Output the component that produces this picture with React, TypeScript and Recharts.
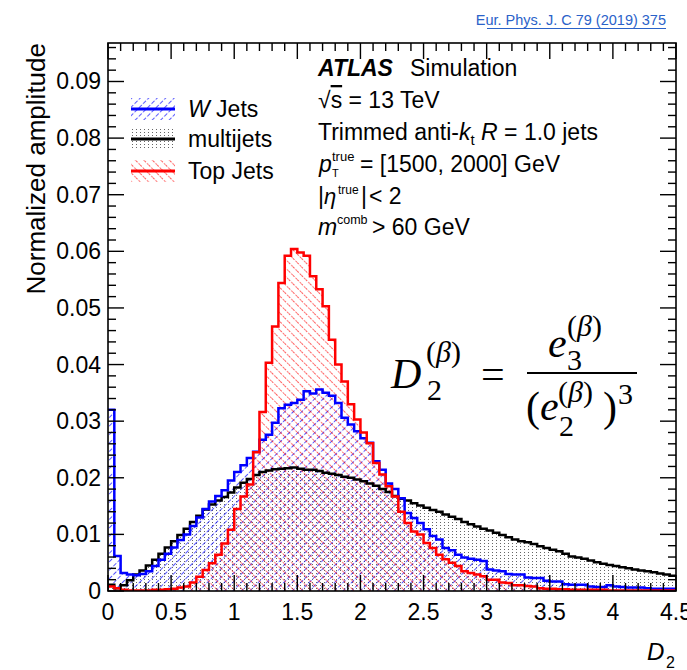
import { ComposedChart, Area, Line, XAxis, YAxis } from 'recharts';

// D2 distributions, 90 bins of width 0.05 from 0 to 4.5
const BIN_WIDTH = 0.05;

const wJets = [
  0.032, 0.0062, 0.0032, 0.0029, 0.0028, 0.003, 0.0035, 0.0044, 0.0055, 0.0066,
  0.0077, 0.009, 0.01, 0.0115, 0.013, 0.0145, 0.0158, 0.0168, 0.0178, 0.0195,
  0.021, 0.0222, 0.0235, 0.0246, 0.0267, 0.0276, 0.0297, 0.0323, 0.0329, 0.0332,
  0.0338, 0.0353, 0.0349, 0.0356, 0.035, 0.0345, 0.0332, 0.0306, 0.0294, 0.0282,
  0.027, 0.0262, 0.0229, 0.0214, 0.019, 0.018, 0.0164, 0.0138, 0.0129, 0.012,
  0.0109, 0.0097, 0.0091, 0.0076, 0.0072, 0.0064, 0.0059, 0.0057, 0.0055, 0.0053,
  0.0038, 0.0036, 0.0035, 0.003, 0.0029, 0.0029, 0.0024, 0.0023, 0.0023, 0.0018,
  0.0017, 0.0017, 0.0012, 0.0011, 0.0011, 0.0011, 0.0008, 0.0007, 0.0007, 0.001,
  0.0008, 0.0007, 0.0006, 0.0006, 0.0006, 0.0005, 0.0004, 0.0004, 0.0004, 0.0004,
];

const multijets = [
  0.0011, 0.0005, 0.001, 0.0019, 0.0029, 0.0036, 0.0045, 0.0055, 0.0066, 0.0077,
  0.0088, 0.0099, 0.011, 0.0122, 0.0133, 0.0144, 0.0153, 0.016, 0.0166, 0.0174,
  0.0183, 0.0191, 0.0198, 0.0205, 0.021, 0.0213, 0.0215, 0.0216, 0.0217, 0.0218,
  0.0216, 0.0214, 0.0214, 0.0212, 0.0209, 0.0207, 0.0205, 0.0202, 0.02, 0.0197,
  0.0194, 0.019, 0.0186, 0.018, 0.0175, 0.0168, 0.0163, 0.016, 0.0155, 0.0151,
  0.0147, 0.0143, 0.014, 0.0135, 0.0131, 0.0127, 0.0122, 0.0118, 0.0114, 0.011,
  0.0107, 0.0103, 0.0099, 0.0095, 0.0091, 0.0088, 0.0086, 0.0083, 0.0079, 0.0076,
  0.0073, 0.007, 0.0066, 0.0061, 0.0059, 0.0057, 0.0054, 0.0051, 0.0048, 0.0046,
  0.0044, 0.0042, 0.004, 0.0038, 0.0036, 0.0035, 0.0033, 0.0031, 0.0029, 0.0027,
];

const topJets = [
  0.0008, 0.0005, 0.0002, 0.0001, 0.0001, 0.0001, 0.0001, 0.0002, 0.0002, 0.0003,
  0.0004, 0.0006, 0.0008, 0.0015, 0.0025, 0.0037, 0.0049, 0.0064, 0.0084, 0.0108,
  0.0145, 0.0167, 0.0188, 0.0245, 0.0316, 0.0403, 0.0467, 0.0544, 0.0592, 0.0604,
  0.0598, 0.0592, 0.0556, 0.0533, 0.0503, 0.0444, 0.04, 0.037, 0.033, 0.0303,
  0.028, 0.0261, 0.0226, 0.0206, 0.0185, 0.0167, 0.014, 0.012, 0.0105, 0.01,
  0.0085, 0.0076, 0.0064, 0.0056, 0.005, 0.0044, 0.0035, 0.0032, 0.0029, 0.0026,
  0.002, 0.002, 0.0015, 0.0014, 0.001, 0.001, 0.0009, 0.0008, 0.0005, 0.0004,
  0.0004, 0.0003, 0.0003, 0.0002, 0.0002, 0.0002, 0.0002, 0.0002, 0.0002, 0.0001,
  0.0001, 0.0001, 0.0001, 0.0001, 0.0001, 0.0001, 0.0001, 0.0001, 0.0001, 0.0001,
];

const xTickLabels = ['0', '0.5', '1', '1.5', '2', '2.5', '3', '3.5', '4', '4.5'];
const yTickLabels = ['0', '0.01', '0.02', '0.03', '0.04', '0.05', '0.06', '0.07', '0.08', '0.09'];

const X_MAX = 4.5;
const Y_MAX = 0.0968;

// minor ticks every 0.1 on x and 0.002 on y
const xTicks = Array.from({ length: 46 }, (_, i) => +(i * 0.1).toFixed(2));
const yTicks = Array.from({ length: 49 }, (_, i) => +(i * 0.002).toFixed(3));
const xMajors = xTickLabels.map(Number);
const yMajors = yTickLabels.map(Number);

// histogram edges; the last edge repeats the last bin so the step closes at 4.5
const chartData = Array.from({ length: wJets.length + 1 }, (_, i) => {
  const k = Math.min(i, wJets.length - 1);
  return {
    x: +(i * BIN_WIDTH).toFixed(2),
    w: wJets[k],
    multi: multijets[k],
    top: topJets[k],
  };
});

const W = 687;
const H = 670;
const FRAME = { left: 108, right: 676, top: 43, bottom: 591 };
const MAJOR_LEN = 16;
const MINOR_LEN = 8;
const TICK_W = 1.4;

const SANS = '"Liberation Sans", Arial, Helvetica, sans-serif';
const SERIF = '"Liberation Serif", "Times New Roman", Times, serif';

const majorIndex = (v: number, majors: number[]) =>
  majors.findIndex((m) => Math.abs(m - v) < 1e-9);

function BottomTick(props: any) {
  const { x, payload } = props;
  const idx = majorIndex(payload.value, xMajors);
  const len = idx >= 0 ? MAJOR_LEN : MINOR_LEN;
  return (
    <g>
      <path d={`M${x},${FRAME.bottom}V${FRAME.bottom - len}`} stroke="#000" strokeWidth={TICK_W} fill="none" />
      {idx >= 0 && (
        <text x={x} y={FRAME.bottom + 29} textAnchor="middle" fontFamily={SANS} fontSize={23} fill="#000">
          {xTickLabels[idx]}
        </text>
      )}
    </g>
  );
}

function TopTick(props: any) {
  const { x, payload } = props;
  const len = majorIndex(payload.value, xMajors) >= 0 ? MAJOR_LEN : MINOR_LEN;
  return <path d={`M${x},${FRAME.top}V${FRAME.top + len}`} stroke="#000" strokeWidth={TICK_W} fill="none" />;
}

function LeftTick(props: any) {
  const { y, payload } = props;
  const idx = majorIndex(payload.value, yMajors);
  const len = idx >= 0 ? MAJOR_LEN : MINOR_LEN;
  return (
    <g>
      <path d={`M${FRAME.left},${y}H${FRAME.left + len}`} stroke="#000" strokeWidth={TICK_W} fill="none" />
      {idx >= 0 && (
        <text x={FRAME.left - 7} y={y + 8} textAnchor="end" fontFamily={SANS} fontSize={23} fill="#000">
          {yTickLabels[idx]}
        </text>
      )}
    </g>
  );
}

function RightTick(props: any) {
  const { y, payload } = props;
  const len = majorIndex(payload.value, yMajors) >= 0 ? MAJOR_LEN : MINOR_LEN;
  return <path d={`M${FRAME.right},${y}H${FRAME.right - len}`} stroke="#000" strokeWidth={TICK_W} fill="none" />;
}

// ROOT-like fill styles
function Patterns({ suffix }: { suffix: string }) {
  return (
    <defs>
      <pattern id={`hatchW${suffix}`} width="6" height="6" patternUnits="userSpaceOnUse" patternTransform="rotate(45)">
        <line x1="0" y1="0" x2="0" y2="6" stroke="#0000ff" strokeWidth="1.3" strokeDasharray="2.2 1.8" />
      </pattern>
      <pattern id={`hatchTop${suffix}`} width="6" height="6" patternUnits="userSpaceOnUse" patternTransform="rotate(-45)">
        <line x1="0" y1="0" x2="0" y2="6" stroke="#ff0000" strokeWidth="1.3" strokeDasharray="2 1.5" />
      </pattern>
      <pattern id={`dotsMulti${suffix}`} width="4" height="3" patternUnits="userSpaceOnUse">
        <rect x="0" y="0" width="1" height="1" fill="#666" />
      </pattern>
    </defs>
  );
}

function Overlay() {
  const sup = 13;
  return (
    <svg
      width={W}
      height={H}
      style={{ position: 'absolute', left: 0, top: 0, pointerEvents: 'none' }}
      fontFamily={SANS}
    >
      <Patterns suffix="Lg" />
      <rect
        x={FRAME.left}
        y={FRAME.top}
        width={FRAME.right - FRAME.left}
        height={FRAME.bottom - FRAME.top}
        fill="none"
        stroke="#000"
        strokeWidth={1.6}
      />

      {/* reference link */}
      <text x={666} y={25} textAnchor="end" fontSize={14.5} fill="#2a62c9">
        Eur. Phys. J. C 79 (2019) 375
      </text>
      <line x1={487} x2={666} y1={28.5} y2={28.5} stroke="#2a62c9" strokeWidth={1} />

      {/* axis titles */}
      <text x={45} y={43} transform="rotate(-90 45 43)" textAnchor="end" fontSize={26} fill="#000">
        Normalized amplitude
      </text>
      <text x={647} y={660} fontSize={24} fontStyle="italic" fill="#000">D</text>
      <text x={666} y={668} fontSize={16} fill="#000">2</text>

      {/* legend */}
      <rect x={131} y={98} width={44} height={22} fill="url(#hatchWLg)" />
      <line x1={131} x2={175} y1={109} y2={109} stroke="#0000ff" strokeWidth={3} />
      <text x={188} y={117} fontSize={23} fill="#000">
        <tspan fontStyle="italic">W</tspan> Jets
      </text>
      <rect x={131} y={128} width={44} height={22} fill="url(#dotsMultiLg)" />
      <line x1={131} x2={175} y1={139} y2={139} stroke="#000" strokeWidth={3} />
      <text x={188} y={147} fontSize={23} fill="#000">multijets</text>
      <rect x={131} y={160} width={44} height={22} fill="url(#hatchTopLg)" />
      <line x1={131} x2={175} y1={171} y2={171} stroke="#ff0000" strokeWidth={3} />
      <text x={188} y={179} fontSize={23} fill="#000">Top Jets</text>

      {/* ATLAS label block */}
      <text x={318} y={76} fontSize={23} fontWeight="bold" fontStyle="italic" fill="#000">ATLAS</text>
      <text x={410} y={76} fontSize={23} fill="#000">Simulation</text>
      <text x={318} y={108} fontSize={23} fill="#000">
        √<tspan style={{ textDecoration: 'overline' }}>s</tspan> = 13 TeV
      </text>
      <text x={318} y={140} fontSize={23} fill="#000">
        Trimmed anti-<tspan fontStyle="italic">k</tspan>
        <tspan fontSize={15} dy={5}>t</tspan>
        <tspan dy={-5}> </tspan>
        <tspan fontStyle="italic">R</tspan> = 1.0 jets
      </text>
      <text x={319} y={172} fontSize={23} fontStyle="italic" fill="#000">p</text>
      <text x={332} y={161} fontSize={sup} fill="#000">true</text>
      <text x={332} y={177} fontSize={11} fill="#000">T</text>
      <text x={360} y={172} fontSize={23} fill="#000">= [1500, 2000] GeV</text>
      <text x={318} y={204} fontSize={23} fill="#000">
        |<tspan fontStyle="italic" fontSize={22}>η</tspan>
      </text>
      <text x={338} y={194} fontSize={12} fill="#000">true</text>
      <text x={361} y={204} fontSize={23} fill="#000">|</text>
      <text x={369} y={204} fontSize={23} fill="#000">&lt; 2</text>
      <text x={318} y={235} fontSize={23} fontStyle="italic" fill="#000">m</text>
      <text x={337} y={224} fontSize={12.5} fill="#000">comb</text>
      <text x={372} y={235} fontSize={23} fill="#000">&gt; 60 GeV</text>

      {/* D2 definition */}
      <g fontFamily={SERIF} fill="#000">
        <text x={391} y={388} fontSize={42} fontStyle="italic">D</text>
        <text x={426} y={362} fontSize={30}>
          (<tspan fontStyle="italic">β</tspan>)
        </text>
        <text x={427} y={400} fontSize={30}>2</text>
        <text x={481} y={388} fontSize={42}>=</text>
        <line x1={527} x2={637} y1={373} y2={373} stroke="#000" strokeWidth={1.8} />
        <text x={548} y={357} fontSize={42} fontStyle="italic">e</text>
        <text x={567} y={336} fontSize={30}>
          (<tspan fontStyle="italic">β</tspan>)
        </text>
        <text x={567} y={370} fontSize={30}>3</text>
        <text x={526} y={421} fontSize={42}>(</text>
        <text x={540} y={420} fontSize={42} fontStyle="italic">e</text>
        <text x={558} y={402} fontSize={30}>
          (<tspan fontStyle="italic">β</tspan>)
        </text>
        <text x={559} y={436} fontSize={30}>2</text>
        <text x={603} y={421} fontSize={42}>)</text>
        <text x={618} y={404} fontSize={30}>3</text>
      </g>
    </svg>
  );
}

export default function App() {
  return (
    <div style={{ position: 'absolute', left: 0, top: 0, width: W, height: H, background: '#fff' }}>
      <ComposedChart
        width={W}
        height={H}
        data={chartData}
        margin={{ top: FRAME.top - 10, right: W - FRAME.right - 10, bottom: H - FRAME.bottom - 40, left: FRAME.left - 60 }}
      >
        <Patterns suffix="" />
        <XAxis
          dataKey="x"
          type="number"
          domain={[0, X_MAX]}
          ticks={xTicks}
          interval={0}
          height={40}
          axisLine={false}
          tickLine={false}
          tick={BottomTick}
          allowDataOverflow
        />
        <XAxis
          xAxisId="top"
          orientation="top"
          dataKey="x"
          type="number"
          domain={[0, X_MAX]}
          ticks={xTicks}
          interval={0}
          height={10}
          axisLine={false}
          tickLine={false}
          tick={TopTick}
          allowDataOverflow
        />
        <YAxis
          type="number"
          domain={[0, Y_MAX]}
          ticks={yTicks}
          interval={0}
          width={60}
          axisLine={false}
          tickLine={false}
          tick={LeftTick}
          allowDataOverflow
        />
        <YAxis
          yAxisId="right"
          orientation="right"
          type="number"
          domain={[0, Y_MAX]}
          ticks={yTicks}
          interval={0}
          width={10}
          axisLine={false}
          tickLine={false}
          tick={RightTick}
          allowDataOverflow
        />
        <Area dataKey="multi" type="stepAfter" stroke="none" fill="url(#dotsMulti)" fillOpacity={1} dot={false} activeDot={false} isAnimationActive={false} />
        <Area dataKey="w" type="stepAfter" stroke="none" fill="url(#hatchW)" fillOpacity={1} dot={false} activeDot={false} isAnimationActive={false} />
        <Area dataKey="top" type="stepAfter" stroke="none" fill="url(#hatchTop)" fillOpacity={1} dot={false} activeDot={false} isAnimationActive={false} />
        <Line dataKey="multi" type="stepAfter" stroke="#000" strokeWidth={2.5} dot={false} activeDot={false} isAnimationActive={false} />
        <Line dataKey="w" type="stepAfter" stroke="#0000ff" strokeWidth={2.5} dot={false} activeDot={false} isAnimationActive={false} />
        <Line dataKey="top" type="stepAfter" stroke="#ff0000" strokeWidth={2.5} dot={false} activeDot={false} isAnimationActive={false} />
      </ComposedChart>
      <Overlay />
    </div>
  );
}
